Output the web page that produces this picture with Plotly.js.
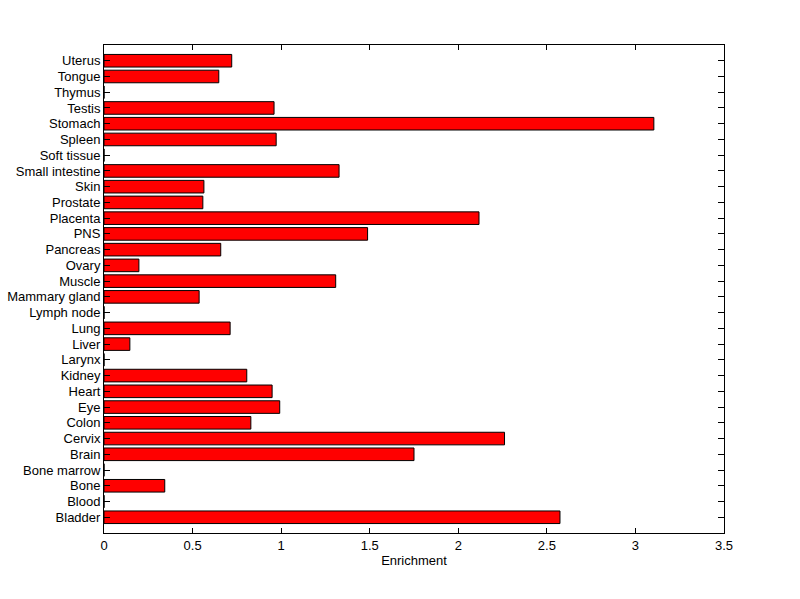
<!DOCTYPE html>
<html><head><meta charset="utf-8">
<script src="https://cdn.plot.ly/plotly-3.0.1.min.js"></script>
<style>html,body{margin:0;padding:0;background:#fff}</style>
</head><body><div id="chart" style="width:800px;height:599px"></div>
<script>
const tissues = ["Bladder","Blood","Bone","Bone marrow","Brain","Cervix","Colon","Eye","Heart","Kidney","Larynx","Liver","Lung","Lymph node","Mammary gland","Muscle","Ovary","Pancreas","PNS","Placenta","Prostate","Skin","Small intestine","Soft tissue","Spleen","Stomach","Testis","Thymus","Tongue","Uterus"];
const enrichment = [2.574,0,0.343,0,1.750,2.261,0.829,0.992,0.949,0.806,0,0.146,0.712,0,0.537,1.308,0.197,0.659,1.488,2.117,0.558,0.564,1.327,0,0.972,3.104,0.960,0,0.648,0.721];
const xTicks = [0,0.5,1,1.5,2,2.5,3,3.5];
const xTickText = ["0","0.5","1","1.5","2","2.5","3","3.5"];

const font = {family: "Liberation Sans, Arial, sans-serif", size: 13, color: "#000"};
Plotly.newPlot("chart", [{
  type: "bar", orientation: "h",
  y: tissues, x: enrichment,
  width: 0.8,
  marker: {color: "#ff0000", line: {color: "#000", width: 1}},
  hoverinfo: "x+y"
}], {
  width: 800, height: 599,
  margin: {l: 104, r: 76, t: 45, b: 66},
  paper_bgcolor: "#fff", plot_bgcolor: "#fff",
  font: font,
  showlegend: false,
  bargap: 0.2,
  xaxis: {
    range: [0, 3.5], tickmode: "array", tickvals: xTicks, ticktext: xTickText,
    ticks: "inside", ticklen: 5, tickcolor: "#000", tickwidth: 1,
    showline: true, linecolor: "#000", linewidth: 1, mirror: "ticks",
    showgrid: false, zeroline: false, fixedrange: true,
    title: {text: "Enrichment", font: font, standoff: 4},
    tickfont: font
  },
  yaxis: {
    type: "category", categoryorder: "array", categoryarray: tissues,
    range: [-1, 30],
    tickmode: "array", tickvals: tissues, ticktext: tissues,
    ticks: "inside", ticklen: 6, tickcolor: "#000", tickwidth: 1,
    showline: true, linecolor: "#000", linewidth: 1, mirror: "ticks",
    showgrid: false, zeroline: false, fixedrange: true,
    tickfont: font, automargin: false
  }
}, {displayModeBar: false, staticPlot: true});
</script></body></html>
